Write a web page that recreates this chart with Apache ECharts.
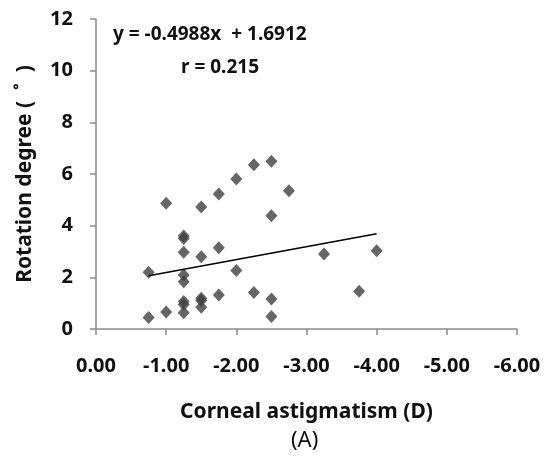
<!DOCTYPE html>
<html>
<head>
<meta charset="utf-8">
<script src="https://cdn.jsdelivr.net/npm/echarts@6/dist/echarts.min.js"></script>
<style>
	html, body { margin: 0; padding: 0; background: #fff; }
	#chart { width: 547px; height: 459px; }
</style>
</head>
<body>
<div id="chart"></div>
<script>
// 角膜散光 (D)
var astigmatism = [-0.75, -0.75, -1.0, -1.0, -1.25, -1.25, -1.25, -1.25, -1.25, -1.25, -1.25, -1.25,
	-1.5, -1.5, -1.5, -1.5, -1.5, -1.75, -1.75, -1.75, -2.0, -2.0, -2.25, -2.25,
	-2.5, -2.5, -2.5, -2.5, -2.75, -3.25, -3.75, -4.0];
// 旋轉角度
var rotation = [2.2, 0.45, 4.87, 0.66, 3.6, 3.5, 2.97, 2.09, 1.83, 1.06, 0.95, 0.63,
	4.72, 2.8, 1.19, 1.1, 0.84, 5.23, 3.15, 1.32, 5.81, 2.26, 6.36, 1.41,
	6.49, 4.38, 1.16, 0.48, 5.35, 2.9, 1.46, 3.03];
// 趨勢線
var slope = -0.4988;
var intercept = 1.6912;
var trendRange = [-0.75, -4.0];

var points = astigmatism.map(function (x, i) {
	return [x, rotation[i]];
});
var trend = trendRange.map(function (x) {
	return [x, slope * x + intercept];
});

var myChart = echarts.init(document.getElementById("chart"), null, {
	renderer: "canvas"
});
var axisFont = "'Noto Sans', sans-serif";
var option = {
	animation: false,
	grid: {
		left: 96,
		right: 30,
		top: 19,
		bottom: 130
	},
	xAxis: {
		type: "value",
		min: -6,
		max: 0,
		interval: 1,
		inverse: true,
		name: "Corneal astigmatism (D)",
		nameLocation: "middle",
		nameGap: 73,
		nameTextStyle: {
			fontFamily: axisFont,
			fontWeight: "bold",
			fontSize: 21,
			color: "#111"
		},
		axisLine: { onZero: false, lineStyle: { color: "#8c8c8c", width: 1.5 } },
		axisTick: { show: true, length: 6, lineStyle: { color: "#8c8c8c", width: 1.5 } },
		splitLine: { show: false },
		axisLabel: {
			margin: 27,
			fontFamily: axisFont,
			fontWeight: "bold",
			fontSize: 20,
			color: "#111",
			formatter: function (v) { return v.toFixed(2); }
		}
	},
	yAxis: {
		type: "value",
		min: 0,
		max: 12,
		interval: 2,
		name: "Rotation degree (  ˚  )",
		nameLocation: "middle",
		nameGap: 60,
		nameTextStyle: {
			fontFamily: axisFont,
			fontWeight: "bold",
			fontSize: 21,
			color: "#111"
		},
		axisLine: { show: true, lineStyle: { color: "#8c8c8c", width: 1.5 } },
		axisTick: { show: true, length: 6, lineStyle: { color: "#8c8c8c", width: 1.5 } },
		splitLine: { show: false },
		axisLabel: {
			margin: 23,
			fontFamily: axisFont,
			fontWeight: "bold",
			fontSize: 20,
			color: "#111"
		}
	},
	series: [
		{
			type: "scatter",
			data: points,
			symbol: "diamond",
			symbolSize: [12, 13],
			itemStyle: { color: "#404040" }
		},
		{
			type: "line",
			data: trend,
			symbol: "none",
			lineStyle: { color: "#000", width: 1.5 }
		}
	],
	graphic: [
		{
			type: "text",
			left: 113,
			top: 25,
			style: {
				text: "y = -0.4988x  + 1.6912",
				font: "bold 19px 'Noto Sans', sans-serif",
				fill: "#111"
			}
		},
		{
			type: "text",
			left: 181,
			top: 58,
			style: {
				text: "r = 0.215",
				font: "bold 19px 'Noto Sans', sans-serif",
				fill: "#111"
			}
		},
		{
			type: "text",
			left: 291,
			top: 430,
			style: {
				text: "(A)",
				font: "22px 'Noto Sans', sans-serif",
				fill: "#111"
			}
		}
	]
};
myChart.setOption(option);
window.addEventListener("resize", myChart.resize);
</script>
</body>
</html>
